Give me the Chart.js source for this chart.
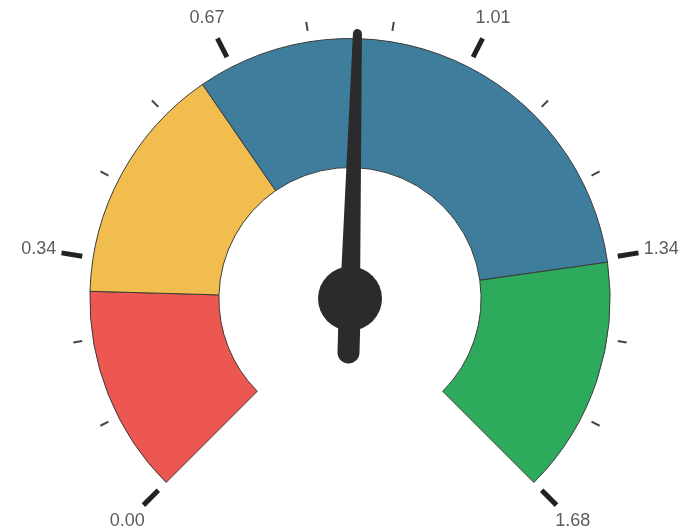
<!DOCTYPE html>
<html>
<head>
<meta charset="utf-8">
<script src="https://cdn.jsdelivr.net/npm/chart.js@4.4.1/dist/chart.umd.min.js"></script>
<style>
  html, body { margin: 0; padding: 0; background: #ffffff; }
  #wrap { width: 682px; height: 528px; }
</style>
</head>
<body>
<div id="wrap"><canvas id="gauge" width="682" height="528"></canvas></div>
<script>
// rangos del indicador (tamaño de cada franja)
const zoneNames = ['Zona 1', 'Zona 2', 'Zona 3', 'Zona 4'];
const zoneSizes = [0.29, 0.335, 0.725, 0.33];
const zoneColors = ['#ED5752', '#F0BD4E', '#3F7D9C', '#2DAA5B'];

// escala
const gaugeMax = 1.68;
const majorTicks = [0, 0.336, 0.672, 1.008, 1.344, 1.68];
const tickLabels = ['0.00', '0.34', '0.67', '1.01', '1.34', '1.68'];
const minorPerStep = 2;

// valor de la aguja
const needleValue = 0.85;

function valueToAngle(arcs, v) {
    const start = arcs[0].startAngle;
    const end = arcs[arcs.length - 1].endAngle;
    return start + (v / gaugeMax) * (end - start);
}

const gaugePlugin = {
    id: 'gaugeExtras',
    afterDatasetsDraw(chart) {
        const arcs = chart.getDatasetMeta(0).data;
        if (!arcs.length) return;
        const ctx = chart.ctx;
        const cx = arcs[0].x;
        const cy = arcs[0].y;
        const R = arcs[0].outerRadius;

        ctx.save();
        ctx.lineCap = 'butt';

        // marcas menores
        ctx.strokeStyle = '#444444';
        ctx.lineWidth = 2;
        for (let i = 0; i < majorTicks.length - 1; i++) {
            const step = (majorTicks[i + 1] - majorTicks[i]) / (minorPerStep + 1);
            for (let k = 1; k <= minorPerStep; k++) {
                const a = valueToAngle(arcs, majorTicks[i] + step * k);
                ctx.beginPath();
                ctx.moveTo(cx + (R + 11) * Math.cos(a), cy + (R + 11) * Math.sin(a));
                ctx.lineTo(cx + (R + 20) * Math.cos(a), cy + (R + 20) * Math.sin(a));
                ctx.stroke();
            }
        }

        // marcas mayores y etiquetas
        ctx.font = '18px "Liberation Sans", Arial, sans-serif';
        ctx.textAlign = 'center';
        ctx.textBaseline = 'middle';
        majorTicks.forEach((v, i) => {
            const a = valueToAngle(arcs, v);
            ctx.strokeStyle = '#222222';
            ctx.lineWidth = 5;
            ctx.beginPath();
            ctx.moveTo(cx + (R + 11) * Math.cos(a), cy + (R + 11) * Math.sin(a));
            ctx.lineTo(cx + (R + 32) * Math.cos(a), cy + (R + 32) * Math.sin(a));
            ctx.stroke();
            ctx.fillStyle = '#5c5c5c';
            ctx.fillText(tickLabels[i], cx + (R + 55) * Math.cos(a), cy + (R + 55) * Math.sin(a));
        });

        // aguja
        const a = valueToAngle(arcs, needleValue);
        const ux = Math.cos(a), uy = Math.sin(a);
        const px = -uy, py = ux;
        const tipLen = R + 5;
        ctx.fillStyle = '#2B2B2B';
        ctx.beginPath();
        ctx.moveTo(cx + px * 10, cy + py * 10);
        ctx.lineTo(cx + ux * tipLen + px * 4.5, cy + uy * tipLen + py * 4.5);
        ctx.arc(cx + ux * tipLen, cy + uy * tipLen, 4.5, a + Math.PI / 2, a - Math.PI / 2, true);
        ctx.lineTo(cx - px * 10, cy - py * 10);
        ctx.closePath();
        ctx.fill();

        // cola
        const tail = 54;
        ctx.beginPath();
        ctx.moveTo(cx + px * 11, cy + py * 11);
        ctx.lineTo(cx - ux * tail + px * 11, cy - uy * tail + py * 11);
        ctx.arc(cx - ux * tail, cy - uy * tail, 11, a + Math.PI / 2, a - Math.PI / 2, false);
        ctx.lineTo(cx - px * 11, cy - py * 11);
        ctx.closePath();
        ctx.fill();

        // centro
        ctx.beginPath();
        ctx.arc(cx, cy, 32, 0, Math.PI * 2);
        ctx.fill();

        ctx.restore();
    }
};

new Chart(document.getElementById('gauge'), {
    type: 'doughnut',
    data: {
        labels: zoneNames,
        datasets: [{
            data: zoneSizes,
            backgroundColor: zoneColors,
            borderColor: '#3a3a3a',
            borderWidth: 1
        }]
    },
    options: {
        responsive: false,
        animation: false,
        rotation: -135,
        circumference: 270,
        cutout: '50.4%',
        layout: {
            padding: { top: 38, bottom: 45, left: 80, right: 62 }
        },
        plugins: {
            legend: { display: false },
            tooltip: { enabled: false }
        }
    },
    plugins: [gaugePlugin]
});
</script>
</body>
</html>
